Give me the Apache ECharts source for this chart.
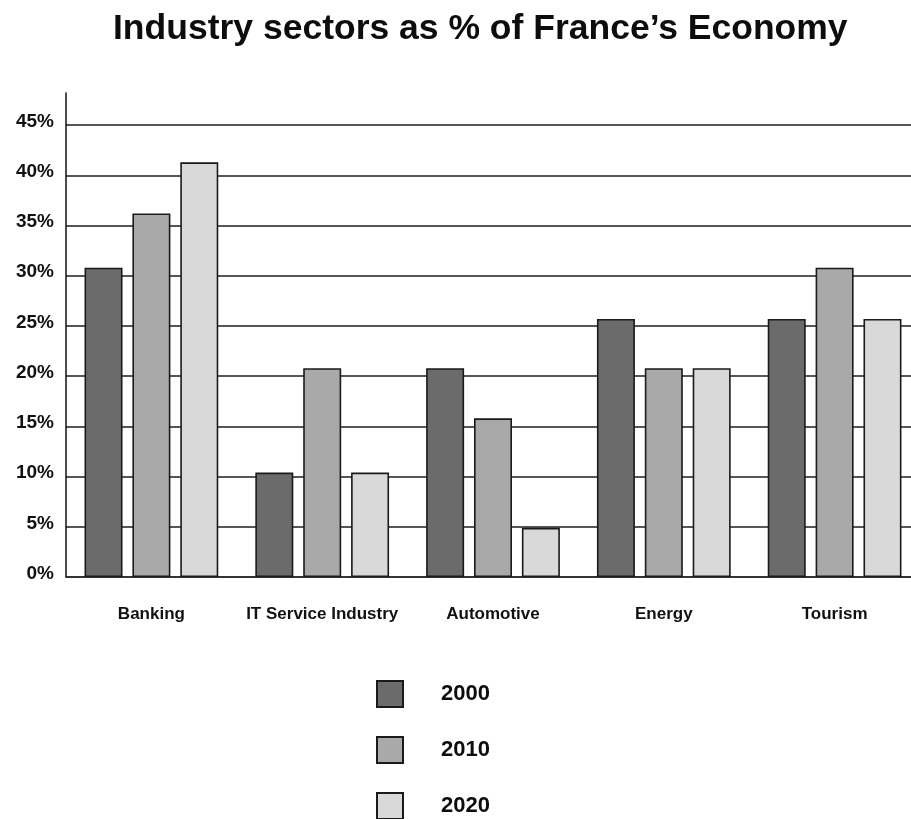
<!DOCTYPE html>
<html>
<head>
<meta charset="utf-8">
<title>Industry sectors as % of France’s Economy</title>
<script src="https://cdn.jsdelivr.net/npm/echarts@6/dist/echarts.min.js"></script>
<style>
  html, body { margin: 0; padding: 0; background: #ffffff; overflow: hidden; }
  /* the plot runs slightly past the right edge of the page */
  #chart { width: 920px; height: 819px; }
</style>
</head>
<body>
<div id="chart"></div>
<script>
// Sectors along the x axis
const sectors = ['Banking', 'IT Service Industry', 'Automotive', 'Energy', 'Tourism'];

// Share of the economy (%) per year
const share2000 = [30.8, 10.4, 20.8, 25.7, 25.7];
const share2010 = [36.2, 20.8, 15.8, 20.8, 30.8];
const share2020 = [41.3, 10.4, 4.9, 20.8, 25.7];

const years = ['2000', '2010', '2020'];
const yearColors = ['#6b6b6b', '#a9a9a9', '#d9d9d9'];

// Value axis ticks
const yMin = 0;
const yMax = 48.2;
const yStep = 5;

const FONT = '"Liberation Sans", Arial, sans-serif';

const chart = echarts.init(document.getElementById('chart'), null, { renderer: 'canvas' });

function barSeries(name, data, color) {
  return {
    name: name,
    type: 'bar',
    data: data,
    barWidth: 38,
    barGap: '26%',
    itemStyle: {
      color: color,
      borderColor: '#1a1a1a',
      borderWidth: 1.6
    },
    emphasis: { disabled: true }
  };
}

// grid lines at every 5%, but none at the axis end
const splitColors = [];
for (let v = yMin; v <= yMax; v += yStep) splitColors.push('#1e1e1e');
splitColors.push('rgba(0,0,0,0)');

chart.setOption({
  backgroundColor: '#ffffff',
  animation: false,
  title: {
    text: 'Industry sectors as % of France’s Economy',
    left: 113,
    top: 11,
    padding: 0,
    textStyle: {
      fontFamily: FONT,
      fontWeight: 'bold',
      fontSize: 35.5,
      color: '#0d0d0d'
    }
  },
  grid: {
    left: 66,
    right: 0,
    top: 93,
    bottom: 242,
    containLabel: false
  },
  legend: {
    data: years,
    orient: 'vertical',
    left: 376,
    top: 680,
    height: 150,
    padding: 0,
    itemWidth: 26,
    itemHeight: 26,
    itemGap: 28,
    icon: 'rect',
    selectedMode: false,
    textStyle: {
      fontFamily: FONT,
      fontWeight: 'bold',
      fontSize: 22,
      lineHeight: 24,
      color: '#0d0d0d',
      padding: [0, 0, 0, 33]
    }
  },
  xAxis: {
    type: 'category',
    data: sectors,
    axisLine: { show: true, lineStyle: { color: '#2a2a2a', width: 1.5 } },
    axisTick: { show: false },
    splitLine: { show: false },
    axisLabel: {
      margin: 29,
      fontFamily: FONT,
      fontWeight: 'bold',
      fontSize: 17,
      color: '#111111',
      interval: 0
    }
  },
  yAxis: {
    type: 'value',
    min: yMin,
    max: yMax,
    interval: yStep,
    axisLine: { show: true, lineStyle: { color: '#111111', width: 1.5 } },
    axisTick: { show: false },
    splitLine: {
      show: true,
      lineStyle: { color: splitColors, width: 1.5 }
    },
    axisLabel: {
      margin: 12,
      fontFamily: FONT,
      fontWeight: 'bold',
      fontSize: 19,
      color: '#111111',
      verticalAlign: 'bottom',
      lineHeight: 7,
      formatter: function (v) {
        return v % yStep === 0 ? v + '%' : '';
      }
    }
  },
  series: [
    barSeries(years[0], share2000, yearColors[0]),
    barSeries(years[1], share2010, yearColors[1]),
    barSeries(years[2], share2020, yearColors[2])
  ]
});
</script>
</body>
</html>
